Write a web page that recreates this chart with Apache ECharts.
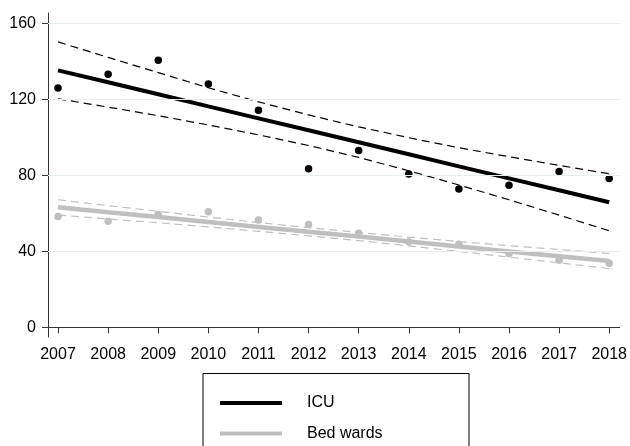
<!DOCTYPE html>
<html>
<head>
<meta charset="utf-8">
<script src="https://cdn.jsdelivr.net/npm/echarts@6/dist/echarts.min.js"></script>
<style>
  html, body { margin: 0; padding: 0; background: #fff; }
  #chart { width: 630px; height: 446px; }
</style>
</head>
<body>
<div id="chart"></div>
<script>
// Years on the horizontal axis
const years = [2007, 2008, 2009, 2010, 2011, 2012, 2013, 2014, 2015, 2016, 2017, 2018];
const yTicks = [0, 40, 80, 120, 160];
const gridValues = [40, 80, 120, 160];

// ICU: yearly observations, linear fit and its 95% confidence band
const icuObserved = [126.1, 133.3, 140.7, 128.2, 114.4, 83.5, 93.2, 80.8, 72.9, 74.9, 82.1, 78.4];
const icuFit      = [135.4, 129.1, 122.8, 116.4, 110.1, 103.8, 97.5, 91.2, 84.8, 78.5, 72.2, 65.9];
const icuUpper    = [150.4, 142.2, 134.2, 126.2, 118.8, 111.9, 105.6, 99.9, 94.6, 89.9, 85.3, 80.9];
const icuLower    = [120.4, 116.0, 111.5, 106.6, 101.4, 95.8, 89.5, 82.5, 75.0, 67.2, 59.1, 50.9];

// Bed wards: yearly observations, linear fit and its 95% confidence band
const bedObserved = [58.4, 55.9, 59.5, 60.9, 56.6, 54.2, 49.5, 45.1, 43.8, 38.9, 35.4, 33.7];
const bedFit      = [63.2, 60.6, 58.1, 55.5, 52.9, 50.3, 47.8, 45.2, 42.6, 40.0, 37.5, 34.9];
const bedUpper    = [67.2, 64.1, 61.1, 58.1, 55.2, 52.5, 50.0, 47.5, 45.2, 43.0, 41.0, 38.9];
const bedLower    = [59.2, 57.1, 55.1, 52.9, 50.6, 48.2, 45.7, 42.9, 40.0, 37.0, 34.0, 30.9];

const pairs = arr => years.map((y, i) => [y, arr[i]]);

const FONT = "'Liberation Sans', Arial, Helvetica, sans-serif";
const BLACK = '#000000';
const GREY = '#bfbfbf';

function ciSeries(arr, color) {
  return {
    type: 'line', data: pairs(arr), symbol: 'none', silent: true,
    lineStyle: { color: color, width: 1.2, type: [8, 5] }
  };
}

function pointSeries(arr, color) {
  return {
    type: 'scatter', data: pairs(arr), symbolSize: 7.5, silent: true,
    itemStyle: { color: color, opacity: 1 }
  };
}

const chart = echarts.init(document.getElementById('chart'), null, { renderer: 'canvas' });

chart.setOption({
  animation: false,
  backgroundColor: '#ffffff',
  textStyle: { fontFamily: FONT },
  grid: { left: 48, right: 8, top: 13, bottom: 109, containLabel: false },
  xAxis: {
    type: 'value', min: 2006.8, max: 2018.21,
    axisLine: { show: true, lineStyle: { color: '#333', width: 1 } },
    axisTick: { show: true, length: 6, customValues: years, lineStyle: { color: '#333' } },
    axisLabel: { customValues: years, formatter: v => String(v), color: '#000', fontSize: 16, margin: 10, fontFamily: FONT },
    splitLine: { show: false }
  },
  yAxis: {
    type: 'value', min: -5.1, max: 165.6,
    axisLine: { show: true, lineStyle: { color: '#333', width: 1 } },
    axisTick: { show: true, length: 6, customValues: yTicks, lineStyle: { color: '#333' } },
    axisLabel: { customValues: yTicks, formatter: v => String(v), color: '#000', fontSize: 16, margin: 12, fontFamily: FONT },
    splitLine: { show: false }
  },
  // legend frame (runs off the bottom edge)
  graphic: [{
    type: 'rect', silent: true, z: 10,
    shape: { x: 203, y: 373.5, width: 266, height: 100 },
    style: { fill: '#fff', stroke: '#000', lineWidth: 1 }
  }],
  legend: {
    orient: 'vertical',
    left: 220, top: 395,
    data: ['ICU', 'Bed wards'],
    icon: 'rect',
    itemWidth: 62, itemHeight: 4,
    itemGap: 14.5,
    padding: 0,
    z: 20,
    selectedMode: false,
    textStyle: { fontSize: 16, color: '#000', fontFamily: FONT, lineHeight: 16, padding: [0, 0, 0, 20] }
  },
  series: [
    {
      // horizontal reference lines at the labelled values
      type: 'line', data: [], silent: true, z: 0,
      markLine: {
        silent: true, symbol: 'none', label: { show: false },
        lineStyle: { color: '#e6eef0', width: 1, type: 'solid' },
        data: gridValues.map(v => ({ yAxis: v }))
      }
    },
    // Bed wards
    pointSeries(bedObserved, GREY),
    ciSeries(bedUpper, GREY),
    ciSeries(bedLower, GREY),
    { name: 'Bed wards', type: 'line', data: pairs(bedFit), symbol: 'none', color: GREY,
      itemStyle: { color: GREY }, lineStyle: { color: GREY, width: 4.5 } },
    // ICU
    pointSeries(icuObserved, BLACK),
    ciSeries(icuUpper, BLACK),
    ciSeries(icuLower, BLACK),
    { name: 'ICU', type: 'line', data: pairs(icuFit), symbol: 'none', color: BLACK,
      itemStyle: { color: BLACK }, lineStyle: { color: BLACK, width: 4 } }
  ]
});
</script>
</body>
</html>
